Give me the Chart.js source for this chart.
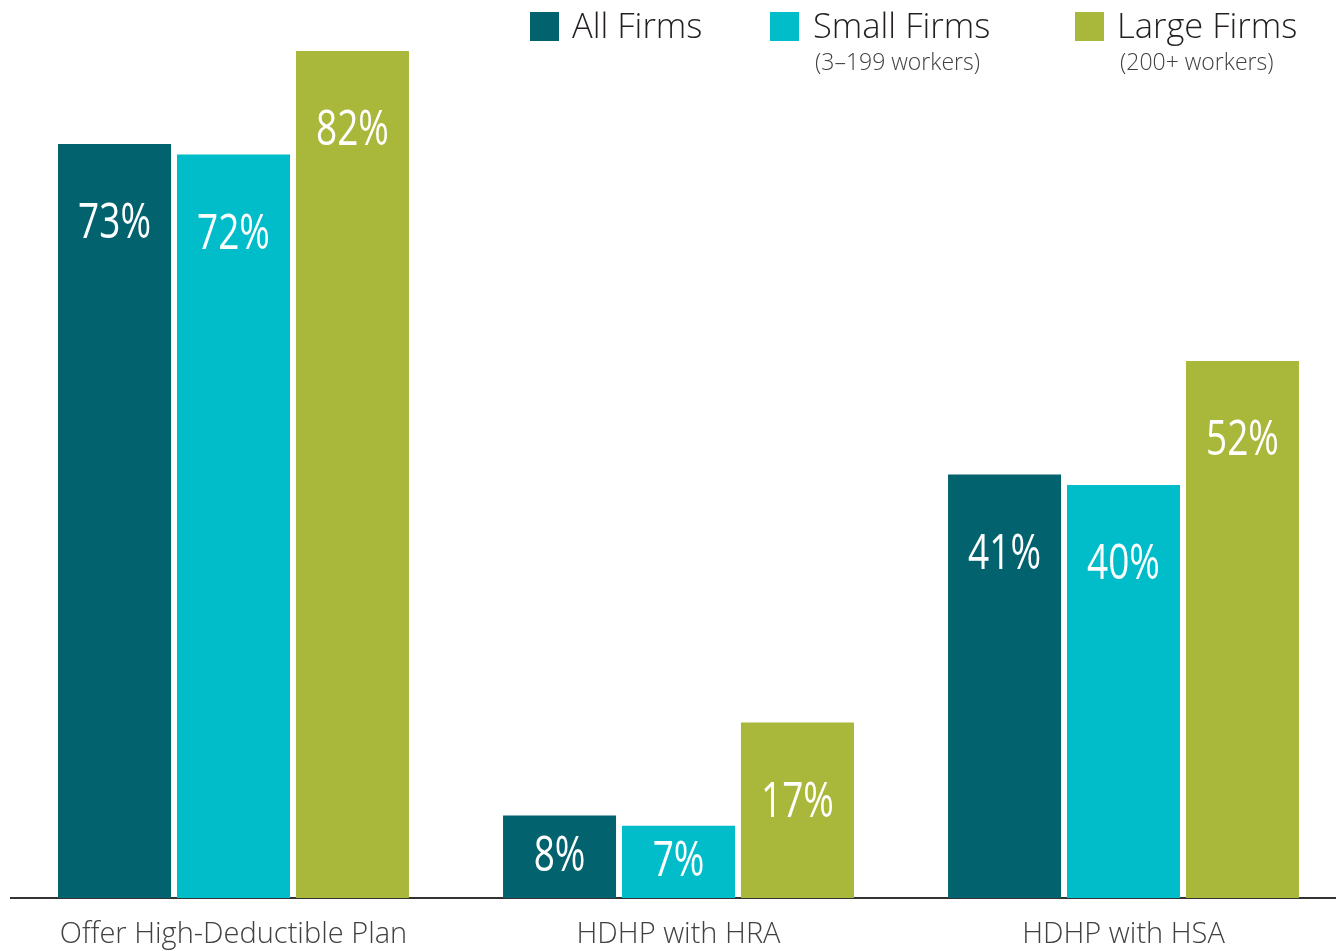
<!DOCTYPE html>
<html>
<head>
<meta charset="utf-8">
<script src="https://cdn.jsdelivr.net/npm/chart.js@4.4.1/dist/chart.umd.min.js"></script>
<style>
  html, body { margin: 0; padding: 0; background: #fff; overflow: hidden; }
  #wrap { position: absolute; left: 0; top: 0; width: 1347px; height: 951px; }
  .legend { position: absolute; top: 0; font-family: "Open Sans", sans-serif; font-weight: 300; color: #231f20; }
  .legend .sw { position: absolute; top: 12px; width: 29px; height: 29px; }
  .legend .name { position: absolute; top: 2px; font-size: 34.5px; white-space: nowrap; line-height: 46px; }
  .legend .sub { position: absolute; top: 46px; font-size: 23px; white-space: nowrap; color: #414042; line-height: 30px; }
</style>
</head>
<body>
<div id="wrap">
  <canvas id="chartHdhp"></canvas>
</div>
<div class="legend">
  <div class="sw" style="left:530px;background:#02626e"></div>
  <div class="name" style="left:572px">All Firms</div>
  <div class="sw" style="left:770px;background:#00bdc9"></div>
  <div class="name" style="left:813px">Small Firms</div>
  <div class="sub" style="left:815px">(3–199 workers)</div>
  <div class="sw" style="left:1075px;background:#a9b73a"></div>
  <div class="name" style="left:1117px">Large Firms</div>
  <div class="sub" style="left:1120px">(200+ workers)</div>
</div>
<script>
const categories = ["Offer High-Deductible Plan", "HDHP with HRA", "HDHP with HSA"];
const allFirms = [73, 8, 41];
const smallFirms = [72, 7, 40];
const largeFirms = [82, 17, 52];

const allColor = "#02626e";
const smallColor = "#00bdc9";
const largeColor = "#a9b73a";

// white % labels inside the bars, narrowed to look like a condensed face
const valueLabels = {
  id: "valueLabels",
  afterDatasetsDraw(chart) {
    const ctx = chart.ctx;
    chart.data.datasets.forEach((ds, i) => {
      chart.getDatasetMeta(i).data.forEach((bar, j) => {
        const h = bar.base - bar.y;
        const off = Math.min(h / 2, 80);
        ctx.save();
        ctx.translate(bar.x, bar.y + off);
        ctx.scale(0.74, 1);
        ctx.fillStyle = "#ffffff";
        ctx.font = "400 50px 'Open Sans', sans-serif";
        ctx.textAlign = "center";
        ctx.textBaseline = "middle";
        ctx.fillText(ds.data[j] + "%", 0, 0);
        ctx.restore();
      });
    });
  },
};

new Chart(document.getElementById("chartHdhp"), {
  type: "bar",
  data: {
    labels: categories,
    datasets: [
      { label: "All Firms", data: allFirms, backgroundColor: allColor },
      { label: "Small Firms", data: smallFirms, backgroundColor: smallColor },
      { label: "Large Firms", data: largeFirms, backgroundColor: largeColor },
    ],
  },
  options: {
    responsive: true,
    maintainAspectRatio: false,
    animation: false,
    barPercentage: 0.95,
    categoryPercentage: 0.802,
    layout: { padding: { left: 11, right: 1, top: 0, bottom: 0 } },
    plugins: { legend: { display: false }, tooltip: { enabled: false } },
    scales: {
      y: { display: false, min: 0, max: 86.95 },
      x: {
        grid: { display: false, drawTicks: false },
        border: { display: true, color: "#333333", width: 2 },
        ticks: {
          color: "#414042",
          padding: 19,
          font: { family: "'Open Sans', sans-serif", size: 29, weight: 300 },
        },
        afterFit(scale) { scale.height = 53; },
      },
    },
  },
  plugins: [valueLabels],
});
</script>
</body>
</html>
